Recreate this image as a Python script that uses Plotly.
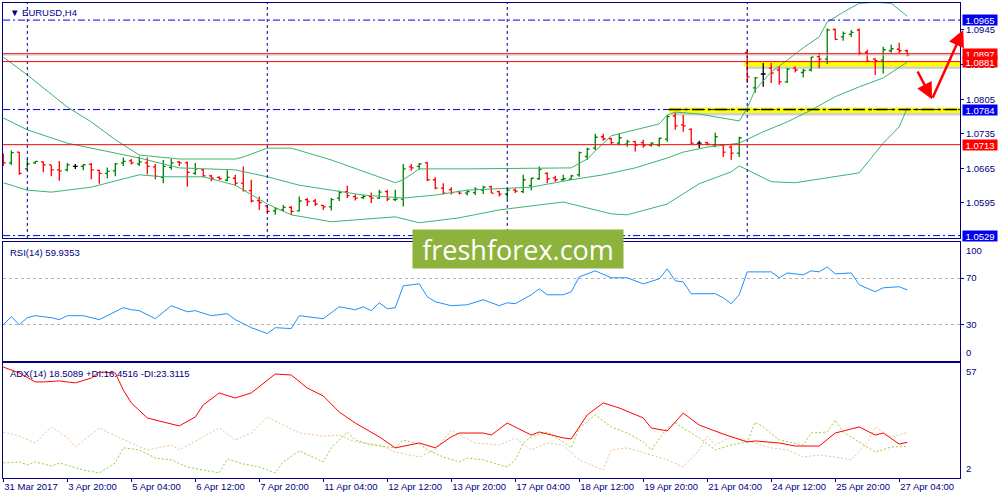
import plotly.graph_objects as go
from plotly.subplots import make_subplots

# EURUSD H4 bars, bar 0 = 31 Mar 2017 12:00, one bar every 4 hours (weekends skipped)
bar_open = [1.0680, 1.0676, 1.0698, 1.0664, 1.0676, 1.0678, 1.0672, 1.0662, 1.0662, 1.0669,
            1.0669, 1.0673, 1.0661, 1.0655, 1.0660, 1.0676, 1.0680, 1.0674, 1.0676, 1.0668,
            1.0647, 1.0667, 1.0678, 1.0676, 1.0655, 1.0662, 1.0650, 1.0647, 1.0641, 1.0645,
            1.0635, 1.0620, 1.0600, 1.0589, 1.0579, 1.0581, 1.0586, 1.0579, 1.0602, 1.0599,
            1.0590, 1.0587, 1.0605, 1.0618, 1.0608, 1.0606, 1.0608, 1.0605, 1.0618, 1.0602,
            1.0603, 1.0668, 1.0669, 1.0676, 1.0642, 1.0625, 1.0622, 1.0618, 1.0615, 1.0616,
            1.0621, 1.0628, 1.0618, 1.0613, 1.0621, 1.0618, 1.0630, 1.0644, 1.0655, 1.0646,
            1.0642, 1.0643, 1.0652, 1.0689, 1.0706, 1.0729, 1.0725, 1.0716, 1.0714, 1.0719,
            1.0717, 1.0712, 1.0712, 1.0724, 1.0771, 1.0753, 1.0744, 1.0716, 1.0717, 1.0712,
            1.0712, 1.0708, 1.0696, 1.0899, 1.0828, 1.0856, 1.0868, 1.0864, 1.0840, 1.0868,
            1.0859, 1.0864, 1.0891, 1.0886, 1.0946, 1.0931, 1.0936, 1.0945, 1.0900, 1.0886,
            1.0884, 1.0903, 1.0906, 1.0903]
bar_high = [1.0695, 1.0701, 1.0698, 1.0684, 1.0680, 1.0679, 1.0672, 1.0680, 1.0676, 1.0674,
            1.0674, 1.0676, 1.0662, 1.0667, 1.0676, 1.0687, 1.0684, 1.0689, 1.0687, 1.0674,
            1.0682, 1.0684, 1.0680, 1.0679, 1.0676, 1.0664, 1.0652, 1.0649, 1.0661, 1.0652,
            1.0669, 1.0642, 1.0608, 1.0591, 1.0587, 1.0591, 1.0589, 1.0608, 1.0605, 1.0603,
            1.0591, 1.0605, 1.0620, 1.0630, 1.0612, 1.0612, 1.0616, 1.0622, 1.0622, 1.0622,
            1.0674, 1.0674, 1.0676, 1.0678, 1.0647, 1.0635, 1.0627, 1.0620, 1.0622, 1.0627,
            1.0630, 1.0630, 1.0620, 1.0625, 1.0625, 1.0652, 1.0646, 1.0669, 1.0657, 1.0650,
            1.0652, 1.0652, 1.0699, 1.0707, 1.0735, 1.0735, 1.0727, 1.0736, 1.0723, 1.0721,
            1.0723, 1.0718, 1.0727, 1.0773, 1.0778, 1.0773, 1.0746, 1.0721, 1.0719, 1.0737,
            1.0714, 1.0712, 1.0729, 1.0905, 1.0850, 1.0878, 1.0878, 1.0872, 1.0868, 1.0871,
            1.0866, 1.0891, 1.0898, 1.0948, 1.0948, 1.0942, 1.0945, 1.0948, 1.0905, 1.0888,
            1.0911, 1.0915, 1.0919, 1.0905]
bar_low = [1.0670, 1.0672, 1.0652, 1.0660, 1.0674, 1.0657, 1.0649, 1.0640, 1.0659, 1.0664,
           1.0661, 1.0643, 1.0634, 1.0645, 1.0649, 1.0670, 1.0673, 1.0670, 1.0653, 1.0643,
           1.0635, 1.0662, 1.0670, 1.0628, 1.0652, 1.0647, 1.0639, 1.0642, 1.0639, 1.0630,
           1.0618, 1.0596, 1.0581, 1.0575, 1.0571, 1.0578, 1.0571, 1.0578, 1.0589, 1.0589,
           1.0581, 1.0580, 1.0599, 1.0605, 1.0600, 1.0603, 1.0595, 1.0603, 1.0599, 1.0599,
           1.0588, 1.0660, 1.0662, 1.0639, 1.0623, 1.0612, 1.0612, 1.0612, 1.0610, 1.0611,
           1.0613, 1.0615, 1.0608, 1.0603, 1.0615, 1.0615, 1.0621, 1.0642, 1.0635, 1.0638,
           1.0640, 1.0642, 1.0648, 1.0682, 1.0702, 1.0721, 1.0714, 1.0712, 1.0709, 1.0699,
           1.0707, 1.0709, 1.0709, 1.0719, 1.0743, 1.0739, 1.0714, 1.0706, 1.0712, 1.0708,
           1.0688, 1.0682, 1.0688, 1.0838, 1.0818, 1.0830, 1.0838, 1.0834, 1.0838, 1.0859,
           1.0849, 1.0861, 1.0868, 1.0876, 1.0925, 1.0923, 1.0931, 1.0894, 1.0881, 1.0854,
           1.0857, 1.0899, 1.0898, 1.0892]
bar_close = [1.0676, 1.0697, 1.0655, 1.0674, 1.0679, 1.0672, 1.0662, 1.0660, 1.0672, 1.0669,
             1.0672, 1.0662, 1.0655, 1.0659, 1.0674, 1.0679, 1.0676, 1.0678, 1.0669, 1.0649,
             1.0669, 1.0676, 1.0676, 1.0657, 1.0664, 1.0650, 1.0645, 1.0644, 1.0647, 1.0635,
             1.0620, 1.0599, 1.0596, 1.0578, 1.0583, 1.0586, 1.0578, 1.0599, 1.0598, 1.0593,
             1.0587, 1.0602, 1.0616, 1.0610, 1.0605, 1.0608, 1.0605, 1.0617, 1.0603, 1.0603,
             1.0664, 1.0666, 1.0674, 1.0642, 1.0625, 1.0615, 1.0616, 1.0615, 1.0618, 1.0623,
             1.0627, 1.0615, 1.0613, 1.0621, 1.0619, 1.0642, 1.0645, 1.0663, 1.0644, 1.0642,
             1.0644, 1.0650, 1.0697, 1.0704, 1.0728, 1.0725, 1.0717, 1.0727, 1.0719, 1.0712,
             1.0711, 1.0716, 1.0726, 1.0770, 1.0751, 1.0751, 1.0716, 1.0716, 1.0714, 1.0729,
             1.0698, 1.0696, 1.0727, 1.0850, 1.0848, 1.0856, 1.0858, 1.0840, 1.0866, 1.0864,
             1.0863, 1.0890, 1.0886, 1.0945, 1.0926, 1.0938, 1.0940, 1.0898, 1.0882, 1.0883,
             1.0905, 1.0907, 1.0903, 1.0894]
doji_idx = [9, 87, 95]

# Bollinger Bands(20) read at turning points
bb_up_idx = [0, 3, 8, 11, 14, 17, 22, 29, 30, 33, 36, 41, 49, 50, 52, 58, 71, 73, 74, 76,
             82, 83, 84, 87, 92, 93, 94, 96, 98, 100, 102, 103, 105, 107, 109, 111, 113]
bb_up = [1.0890, 1.0854, 1.0789, 1.0759, 1.0723, 1.0692, 1.0684, 1.0684, 1.0688, 1.0706,
         1.0706, 1.0682, 1.0636, 1.0642, 1.0664, 1.0664, 1.0666, 1.0684, 1.0700, 1.0731,
         1.0755, 1.0773, 1.0779, 1.0775, 1.0761, 1.0787, 1.0824, 1.0860, 1.0884, 1.0909,
         1.0931, 1.0961, 1.0981, 1.0999, 1.1001, 1.0999, 1.0973]
bb_mid_idx = [0, 3, 8, 14, 17, 22, 29, 33, 37, 41, 45, 50, 54, 58, 66, 71, 75, 79, 83, 85,
              88, 92, 95, 98, 101, 104, 107, 110, 113]
bb_mid = [1.0767, 1.0743, 1.0716, 1.0696, 1.0686, 1.0666, 1.0662, 1.0648, 1.0631, 1.0621,
          1.0611, 1.0605, 1.0611, 1.0621, 1.0627, 1.0642, 1.0652, 1.0666, 1.0686, 1.0698,
          1.0708, 1.0716, 1.0739, 1.0759, 1.0783, 1.0810, 1.0830, 1.0848, 1.0880]
bb_low_idx = [0, 3, 6, 11, 17, 20, 25, 29, 33, 36, 41, 49, 52, 57, 62, 70, 76, 78, 83, 84,
              87, 91, 92, 93, 96, 99, 103, 107, 108, 110, 112, 113]
bb_low = [1.0636, 1.0621, 1.0617, 1.0627, 1.0652, 1.0648, 1.0648, 1.0631, 1.0593, 1.0571,
          1.0557, 1.0567, 1.0555, 1.0565, 1.0581, 1.0597, 1.0573, 1.0571, 1.0593, 1.0603,
          1.0634, 1.0658, 1.0670, 1.0662, 1.0638, 1.0636, 1.0646, 1.0656, 1.0676, 1.0716,
          1.0749, 1.0787]

# RSI(14)
rsi_idx = [0, 1, 2, 3, 4, 6, 7, 8, 10, 12, 15, 16, 17, 19, 21, 23, 24, 26, 28, 29,
           31, 33, 34, 36, 37, 40, 42, 44, 45, 46, 47, 48, 49, 50, 52, 53, 54, 56, 58, 60,
           62, 63, 64, 66, 67, 68, 70, 71, 72, 74, 76, 78, 80, 82, 83, 84, 85, 86, 89, 90,
           91, 92, 93, 96, 97, 98, 100, 101, 102, 103, 104, 106, 107, 109, 110, 112, 113]
rsi_val = [30.0, 36.8, 30.0, 36.0, 37.7, 36.0, 34.3, 37.7, 37.7, 34.3, 44.6, 42.8, 42.0, 35.1,
           46.3, 41.1, 42.0, 37.7, 39.4, 34.3, 27.4, 22.3, 27.4, 26.6, 37.7, 35.1, 45.4, 42.8,
           45.4, 42.0, 48.8, 43.7, 44.6, 63.4, 65.1, 54.0, 49.7, 46.3, 47.1, 51.4, 46.3, 48.8,
           48.0, 55.7, 60.8, 55.7, 55.7, 58.3, 71.1, 76.3, 70.3, 70.3, 65.1, 69.4, 78.0, 67.7,
           66.8, 56.6, 56.6, 53.1, 48.0, 55.7, 75.4, 75.4, 70.3, 74.5, 72.8, 76.3, 75.4, 79.7,
           73.7, 74.5, 64.3, 58.3, 61.7, 62.6, 59.9]

# ADX(14) with +DI / -DI
adx_idx = [0, 2, 4, 5, 7, 9, 11, 12, 14, 15, 16, 17, 18, 20, 22, 24, 25, 27, 29, 31,
           34, 36, 38, 40, 42, 44, 47, 49, 52, 54, 56, 57, 60, 61, 63, 66, 67, 70, 71, 73,
           75, 77, 80, 81, 83, 85, 87, 90, 93, 94, 97, 99, 102, 104, 107, 109, 110, 112, 113]
adx_val = [55.5, 52.6, 48.2, 48.2, 48.7, 47.7, 50.1, 53.1, 52.6, 44.2, 37.9, 34.4, 30.5, 28.5,
           26.6, 31.0, 36.9, 42.8, 40.3, 42.8, 52.1, 51.6, 45.2, 41.3, 33.4, 28.0, 21.2, 15.8,
           18.2, 15.8, 21.2, 23.1, 23.1, 22.1, 28.0, 22.1, 23.6, 20.7, 20.2, 32.0, 37.9, 35.4,
           30.5, 25.6, 24.1, 32.9, 27.0, 22.6, 18.7, 19.2, 18.2, 16.7, 16.7, 23.1, 26.1, 22.1,
           23.1, 17.7, 18.5]
pdi_idx = [0, 2, 3, 4, 6, 7, 10, 12, 14, 15, 17, 19, 21, 23, 25, 27, 28, 30, 32, 34,
           35, 37, 40, 41, 43, 44, 46, 49, 50, 52, 53, 55, 57, 58, 60, 63, 64, 65, 66, 68,
           70, 71, 72, 74, 76, 78, 80, 81, 83, 84, 87, 89, 91, 93, 94, 95, 97, 100, 101, 103,
           104, 105, 107, 109, 111, 113]
pdi_val = [8.4, 8.9, 7.4, 8.9, 6.9, 8.4, 4.9, 3.5, 8.4, 15.8, 14.8, 10.8, 9.9, 6.4, 4.9, 3.5,
           10.3, 7.9, 6.4, 3.5, 8.9, 14.3, 8.9, 15.8, 23.6, 19.7, 17.2, 15.8, 19.7, 17.7, 14.8,
           11.3, 8.9, 10.8, 9.9, 6.4, 9.9, 18.2, 21.2, 23.6, 18.7, 15.8, 25.6, 32.0, 26.1, 23.1,
           18.7, 14.8, 25.6, 28.0, 20.7, 14.8, 17.2, 18.7, 28.5, 26.1, 19.7, 17.2, 23.1, 23.6,
           29.5, 23.6, 18.7, 13.8, 16.2, 16.5]
mdi_idx = [0, 2, 4, 6, 8, 9, 12, 13, 16, 18, 21, 22, 25, 27, 29, 31, 33, 35, 37, 40,
           42, 44, 47, 49, 52, 54, 56, 57, 59, 62, 64, 66, 68, 70, 72, 75, 76, 78, 80, 83,
           85, 87, 88, 89, 91, 94, 96, 98, 100, 102, 104, 106, 108, 109, 111, 113]
mdi_val = [23.6, 21.6, 18.2, 26.1, 20.7, 16.2, 25.6, 23.6, 18.2, 14.8, 17.2, 14.8, 21.2, 25.6,
           19.7, 23.1, 31.0, 27.0, 23.1, 21.6, 22.1, 18.7, 17.2, 13.8, 11.3, 14.8, 24.6, 22.1,
           18.2, 17.2, 20.7, 14.8, 18.2, 17.2, 9.9, 4.9, 14.8, 15.8, 13.3, 9.9, 6.4, 14.8, 21.6,
           17.2, 21.2, 18.2, 15.8, 14.8, 11.3, 12.3, 11.3, 9.9, 18.2, 26.1, 21.2, 23.3]

# time axis labels (bar index -> text)
tick_idx = [0, 8, 16, 24, 32, 40, 48, 56, 64, 72, 80, 88, 96, 104, 112]
tick_text = ["31 Mar 2017", "3 Apr 20:00", "5 Apr 04:00", "6 Apr 12:00", "7 Apr 20:00",
             "11 Apr 04:00", "12 Apr 12:00", "13 Apr 20:00", "17 Apr 04:00", "18 Apr 12:00",
             "19 Apr 20:00", "21 Apr 04:00", "24 Apr 12:00", "25 Apr 20:00", "27 Apr 04:00"]
grid_idx = [3, 33, 63, 93]

price_ticks = [1.0945, 1.0875, 1.0805, 1.0735, 1.0665, 1.0595]
red_levels = [1.0897, 1.0881, 1.0713]
blue_levels = [1.0965, 1.0784, 1.0529]
# support zones: (start bar, low, high)
zones = [(92.6, 1.0871, 1.0881), (83.2, 1.0777, 1.0788)]
# hand-drawn arrow path (bar, price)
arrow_pts = [(114.2, 1.0864), (116.1, 1.0805), (120.0, 1.0945)]

NAVY = "#000080"
FONT = "Liberation Sans, DejaVu Sans, sans-serif"
FS = 9.5
X_RANGE = [-0.04, 119.6]

fig = make_subplots(rows=3, cols=1, shared_xaxes=True, vertical_spacing=0.01)

# zones under everything
for x0, lo, hi in zones:
    fig.add_shape(type="rect", xref="x", yref="y", x0=x0 + 0.25, x1=X_RANGE[1],
                  y0=lo - 0.0005, y1=hi - 0.0005, fillcolor="rgba(120,120,120,0.35)",
                  line_width=0, layer="below")
    fig.add_shape(type="rect", xref="x", yref="y", x0=x0, x1=X_RANGE[1], y0=lo, y1=hi,
                  fillcolor="#FFFF00", line_width=0, layer="below")

for g in grid_idx:
    fig.add_vline(x=g, row="all", col=1, line=dict(color=NAVY, width=1, dash="3px,3px"))

fig.add_hline(y=1.08944, row=1, col=1, line=dict(color="#C8C8C8", width=1))
for lvl in red_levels:
    fig.add_hline(y=lvl, row=1, col=1, line=dict(color="#FF0000", width=1))
for lvl in blue_levels:
    fig.add_hline(y=lvl, row=1, col=1, line=dict(color="#0000DD", width=1, dash="7px,3px,2px,3px"))
fig.add_shape(type="line", xref="x", yref="y", x0=zones[1][0], x1=X_RANGE[1],
              y0=blue_levels[1], y1=blue_levels[1],
              line=dict(color="#000000", width=1.5, dash="12px,4px,3px,4px"))

# Bollinger bands
for xs, ys in [(bb_up_idx, bb_up), (bb_mid_idx, bb_mid), (bb_low_idx, bb_low)]:
    fig.add_trace(go.Scatter(x=xs, y=ys, mode="lines", line=dict(color="#3CB371", width=1),
                             hoverinfo="skip", showlegend=False), row=1, col=1)

# price bars
normal = [i for i in range(len(bar_open)) if i not in doji_idx]
fig.add_trace(go.Ohlc(
    x=normal, open=[bar_open[i] for i in normal], high=[bar_high[i] for i in normal],
    low=[bar_low[i] for i in normal], close=[bar_close[i] for i in normal],
    increasing=dict(line=dict(color="#008000", width=1.3)),
    decreasing=dict(line=dict(color="#FF0000", width=1.3)),
    tickwidth=0.3, showlegend=False, hoverinfo="skip"), row=1, col=1)
fig.add_trace(go.Ohlc(
    x=doji_idx, open=[bar_open[i] for i in doji_idx], high=[bar_high[i] for i in doji_idx],
    low=[bar_low[i] for i in doji_idx], close=[bar_close[i] for i in doji_idx],
    increasing=dict(line=dict(color="#000000", width=1.3)),
    decreasing=dict(line=dict(color="#000000", width=1.3)),
    tickwidth=0.3, showlegend=False, hoverinfo="skip"), row=1, col=1)

# RSI
fig.add_trace(go.Scatter(x=rsi_idx, y=rsi_val, mode="lines", line=dict(color="#1E90FF", width=1),
                         hoverinfo="skip", showlegend=False), row=2, col=1)

# ADX
fig.add_trace(go.Scatter(x=mdi_idx, y=mdi_val, mode="lines",
                         line=dict(color="#F0C090", width=1, dash="2px,2px"),
                         hoverinfo="skip", showlegend=False), row=3, col=1)
fig.add_trace(go.Scatter(x=pdi_idx, y=pdi_val, mode="lines",
                         line=dict(color="#9ACD32", width=1, dash="2px,2px"),
                         hoverinfo="skip", showlegend=False), row=3, col=1)
fig.add_trace(go.Scatter(x=adx_idx, y=adx_val, mode="lines", line=dict(color="#FF0000", width=1),
                         hoverinfo="skip", showlegend=False), row=3, col=1)

axis_common = dict(showline=True, mirror=True, linecolor=NAVY, linewidth=1,
                   showgrid=False, zeroline=False, automargin=False)
fig.update_xaxes(range=X_RANGE, **axis_common)
fig.update_xaxes(rangeslider_visible=False, row=1, col=1)
fig.update_xaxes(tickmode="array", tickvals=tick_idx, ticktext=tick_text, ticks="outside",
                 ticklen=3, tickcolor=NAVY, ticklabelposition="outside right", tickangle=0,
                 tickfont=dict(family=FONT, size=FS, color=NAVY), row=3, col=1)

fig.update_layout(
    width=1000, height=500,
    margin=dict(l=3, r=40, t=3, b=22),
    paper_bgcolor="white", plot_bgcolor="white",
    showlegend=False,
    font=dict(family=FONT, size=FS, color=NAVY),
    yaxis=dict(domain=[0.5053, 1.0], range=[1.05242, 1.09996], side="right",
               tickmode="array", tickvals=price_ticks, tickformat=".4f",
               ticks="outside", ticklen=3, tickcolor=NAVY,
               tickfont=dict(family=FONT, size=FS, color=NAVY), **axis_common),
    yaxis2=dict(domain=[0.2463, 0.4968], range=[-1.3, 101.1], side="right",
                tickmode="array", tickvals=[70, 30], ticks="outside", ticklen=3,
                tickcolor=NAVY, tickfont=dict(family=FONT, size=FS, color=NAVY),
                **{**axis_common, "showgrid": True}, gridcolor="#B4B4B4", griddash="dot"),
    yaxis3=dict(domain=[0.0, 0.2421], range=[1.0, 57.5], side="right",
                tickmode="array", tickvals=[], **axis_common),
)

ann = []
# price level tags on the right scale
for lvl, bg in [(blue_levels[0], "#0000EE"), (red_levels[0], "#FF0000"), (red_levels[1], "#FF0000"),
                (blue_levels[1], "#0000EE"), (red_levels[2], "#FF0000"), (blue_levels[2], "#0000EE")]:
    ann.append(dict(x=1.0, xref="paper", xanchor="left", xshift=2, y=lvl, yref="y",
                    text=f"{lvl:.4f}", showarrow=False, bgcolor=bg, width=34, height=10,
                    borderpad=0, font=dict(family=FONT, size=FS, color="white")))
# scale end labels for indicator windows
ann += [
    dict(x=1.0, xref="paper", xanchor="left", xshift=4, y=100, yref="y2", yanchor="top",
         text="100", showarrow=False),
    dict(x=1.0, xref="paper", xanchor="left", xshift=4, y=0, yref="y2", yanchor="bottom",
         text="0", showarrow=False),
    dict(x=1.0, xref="paper", xanchor="left", xshift=4, y=57, yref="y3", yanchor="top",
         text="57", showarrow=False),
    dict(x=1.0, xref="paper", xanchor="left", xshift=4, y=2, yref="y3", yanchor="bottom",
         text="2", showarrow=False),
]
# window captions
ann += [
    dict(x=0, xref="paper", xanchor="left", xshift=5, y=1, yref="y domain", yanchor="top",
         yshift=-2, text="▼ EURUSD,H4", showarrow=False),
    dict(x=0, xref="paper", xanchor="left", xshift=5, y=1, yref="y2 domain", yanchor="top",
         yshift=-3, text=f"RSI(14) {59.9353:.4f}", showarrow=False),
    dict(x=0, xref="paper", xanchor="left", xshift=5, y=1, yref="y3 domain", yanchor="top",
         yshift=-3, text="ADX(14) 18.5089 +DI:16.4516 -DI:23.3115", showarrow=False),
]
# forecast arrows
for (ax_, ay_), (x_, y_) in zip(arrow_pts[:-1], arrow_pts[1:]):
    ann.append(dict(x=x_, y=y_, xref="x", yref="y", ax=ax_, ay=ay_, axref="x", ayref="y",
                    showarrow=True, arrowhead=2, arrowsize=1.3, arrowwidth=2.5,
                    arrowcolor="#FF0000", text=""))
# watermark
ann.append(dict(x=0.538, y=0.482, xref="paper", yref="paper", text="freshforex.com",
                showarrow=False, bgcolor="#8DB33D", width=210, height=38, borderpad=0,
                font=dict(family="Open Sans, Noto Sans, sans-serif", size=27, color="white")))
fig.update_layout(annotations=ann)

# browser default body margin would shift the 1000x500 figure off the window
fig.write_html("out.html", config={"displayModeBar": False},
               post_script="document.body.style.margin='0';")
